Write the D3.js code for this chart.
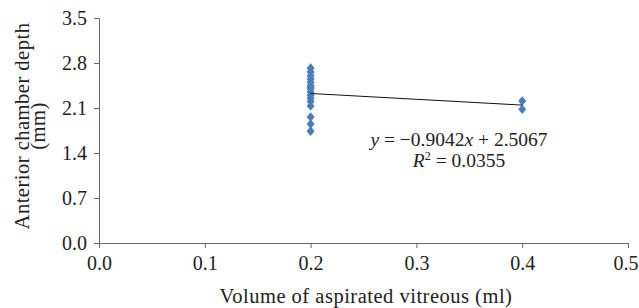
<!DOCTYPE html>
<html><head><meta charset="utf-8">
<script src="https://cdn.jsdelivr.net/npm/d3@7"></script>
<style>body{margin:0;background:#fff}svg{display:block}text{font-family:"Liberation Serif","Times New Roman",serif;fill:#222}</style>
</head><body><svg id="c" width="639" height="308"></svg>
<script>
const xTicks = [0, 0.1, 0.2, 0.3, 0.4, 0.5];
const yTicks = [0, 0.7, 1.4, 2.1, 2.8, 3.5];
const volume02 = [0.2,0.2,0.2,0.2,0.2,0.2,0.2,0.2,0.2,0.2,0.2,0.2,0.2,0.2,0.2,0.2];
const depth02 = [2.72,2.66,2.60,2.55,2.50,2.45,2.40,2.35,2.30,2.25,2.20,2.13,1.96,1.85,1.74,2.42];
const volume04 = [0.4,0.4];
const depth04 = [2.21,2.08];
const slope = -0.9042, intercept = 2.5067, r2 = 0.0355;
const trendX = [0.2, 0.4];

const svg = d3.select("#c");
const x = d3.scaleLinear().domain([0,0.5]).range([99,628]);
const y = d3.scaleLinear().domain([0,3.5]).range([243,18]);

const xa = svg.append("g").attr("transform","translate(0,243)")
  .call(d3.axisBottom(x).tickValues(xTicks).tickFormat(d3.format(".1f")).tickSizeOuter(0).tickSize(5).tickPadding(8));
const ya = svg.append("g").attr("transform","translate(99,0)")
  .call(d3.axisLeft(y).tickValues(yTicks).tickFormat(d3.format(".1f")).tickSizeOuter(0).tickSize(5).tickPadding(7));
[xa,ya].forEach(a=>{a.selectAll("path,line").attr("stroke","#666");a.selectAll("text").style("font-size","20px").style("font-family",'"Liberation Serif",serif').attr("fill","#222");});
// keep the last x label inside the picture
xa.selectAll(".tick").filter(d=>d===0.5).select("text").attr("text-anchor","end").attr("dx",10);

const pts = volume02.map((v,i)=>[v,depth02[i]]).concat(volume04.map((v,i)=>[v,depth04[i]]));
svg.append("g").selectAll("path").data(pts).join("path")
  .attr("transform",d=>`translate(${x(d[0])},${y(d[1])})`)
  .attr("d","M0,-4.8L4,0L0,4.8L-4,0Z").attr("fill","#4a7ebb");

svg.append("line").attr("x1",x(trendX[0])).attr("y1",y(slope*trendX[0]+intercept))
  .attr("x2",x(trendX[1])).attr("y2",y(slope*trendX[1]+intercept)).attr("stroke","#111").attr("stroke-width",1);

const eq = svg.append("text").attr("x",459).attr("y",146).attr("text-anchor","middle").style("font-size","19.5px");
eq.append("tspan").attr("font-style","italic").text("y");
eq.append("tspan").text(" = \u22120.9042");
eq.append("tspan").attr("font-style","italic").text("x");
eq.append("tspan").text(" + 2.5067");
const rt = svg.append("text").attr("x",459).attr("y",167).attr("text-anchor","middle").style("font-size","19.5px");
rt.append("tspan").attr("font-style","italic").text("R");
rt.append("tspan").attr("dy",-7).style("font-size","12px").text("2");
rt.append("tspan").attr("dy",7).text(" = 0.0355");

svg.append("text").attr("x",366).attr("y",303).attr("text-anchor","middle").style("font-size","20.5px").style("letter-spacing","0.5px").text("Volume of aspirated vitreous (ml)");
svg.append("text").attr("transform","translate(29,126) rotate(-90)").attr("text-anchor","middle").style("font-size","20.5px").style("letter-spacing","0.5px").text("Anterior chamber depth");
svg.append("text").attr("transform","translate(45,126) rotate(-90)").attr("text-anchor","middle").style("font-size","20.5px").style("letter-spacing","0.5px").text("(mm)");
</script></body></html>
